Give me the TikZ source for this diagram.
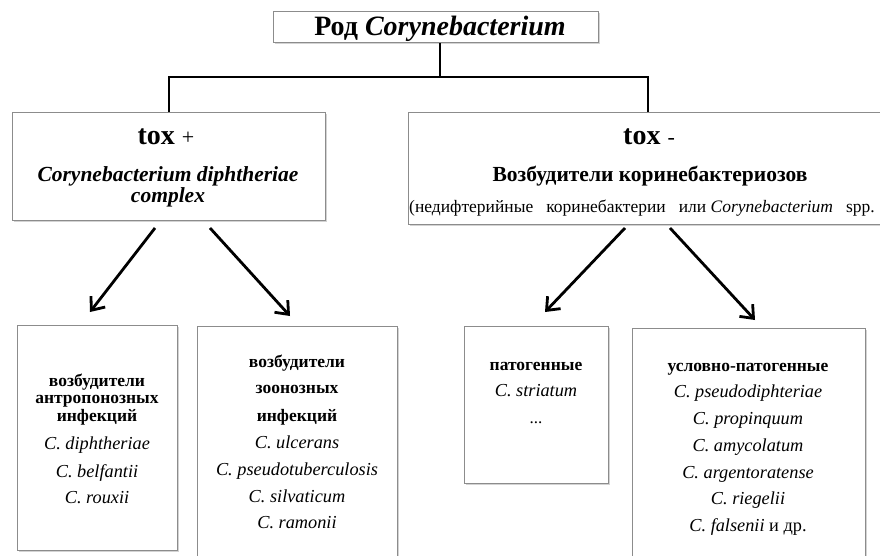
\documentclass[tikz,border=0pt]{standalone}
\usepackage{fontspec}
\setmainfont{Liberation Serif}
\usetikzlibrary{arrows.meta,shadows}
\begin{document}
\begin{tikzpicture}[x=1pt,y=-1pt,
  box/.style={draw=black!45,line width=1pt,fill=white,inner sep=0,
    drop shadow={opacity=0.35,shadow xshift=1.5pt,shadow yshift=-1.5pt}},
  lbl/.style={anchor=base,inner sep=0},
  hd/.style={lbl,font=\fontsize{17.5}{20}\selectfont\bfseries},
  sp/.style={lbl,font=\fontsize{18.3}{20}\selectfont\itshape},
  conn/.style={line width=2pt},
  arr/.style={line width=2.8pt,-{Straight Barb[length=11pt,width=18pt,line width=2.8pt]}}]
\useasboundingbox (0,0) rectangle (880,556);
% boxes
\node[box,minimum width=325,minimum height=31] (top) at (435.5,27.5) {};
\node[box,minimum width=313,minimum height=107] (tplus) at (168.5,166.5) {};
\node[box,minimum width=480,minimum height=111] (tminus) at (648,168.5) {};
\node[box,minimum width=160,minimum height=225] (b1) at (97,437.5) {};
\node[box,minimum width=200,minimum height=240] (b2) at (297,446) {};
\node[box,minimum width=144,minimum height=157] (b3) at (536,404.5) {};
\node[box,minimum width=233,minimum height=240] (b4) at (748.5,448) {};
% title
\node[lbl,font=\fontsize{28}{32}\selectfont\bfseries] (ttl) at (440,36) {Род \textit{Corynebacterium}};
% tox+
\node[lbl] (tp1) at (166,145) {\fontsize{28}{32}\selectfont\bfseries tox \fontsize{22}{26}\selectfont\mdseries +};
\node[lbl,font=\fontsize{21.5}{24}\selectfont\bfseries\itshape] (tp2) at (168,182) {Corynebacterium diphtheriae};
\node[lbl,font=\fontsize{21.5}{24}\selectfont\bfseries\itshape] (tp3) at (168,203) {complex};
% tox-
\node[lbl] (tm1) at (649,145) {\fontsize{28}{32}\selectfont\bfseries tox \fontsize{22}{26}\selectfont\mdseries -};
\node[lbl,font=\fontsize{21.5}{24}\selectfont\bfseries] (tm2) at (650,182) {Возбудители коринебактериозов};
\node[lbl,anchor=base west,font=\fontsize{17.5}{20}\selectfont] (tm3) at (409,212) {(недифтерийные\hspace{13pt}коринебактерии\hspace{13pt}или \textit{Corynebacterium}\hspace{13pt}spp.};
% box 1
\node[hd] (b1a) at (97,386) {возбудители};
\node[hd] (b1b) at (97,403) {антропонозных};
\node[hd] (b1c) at (97,421) {инфекций};
\node[sp] (b1d) at (97,449) {C. diphtheriae};
\node[sp] (b1e) at (97,477) {C. belfantii};
\node[sp] (b1f) at (97,503) {C. rouxii};
% box 2
\node[hd] (b2a) at (297,367) {возбудители};
\node[hd] (b2b) at (297,393) {зоонозных};
\node[hd] (b2c) at (297,421) {инфекций};
\node[sp] (b2d) at (297,448) {C. ulcerans};
\node[sp] (b2e) at (297,475) {C. pseudotuberculosis};
\node[sp] (b2f) at (297,502) {C. silvaticum};
\node[sp] (b2g) at (297,528) {C. ramonii};
% box 3
\node[hd] (b3a) at (536,370) {патогенные};
\node[sp] (b3b) at (536,396) {C. striatum};
\node[lbl,font=\fontsize{17}{20}\selectfont] (b3c) at (536,423) {...};
% box 4
\node[hd] (b4a) at (748,371) {условно-патогенные};
\node[sp] (b4b) at (748,397) {C. pseudodiphteriae};
\node[sp] (b4c) at (748,424) {C. propinquum};
\node[sp] (b4d) at (748,451) {C. amycolatum};
\node[sp] (b4e) at (748,478) {C. argentoratense};
\node[sp] (b4f) at (748,504) {C. riegelii};
\node[sp] (b4g) at (748,531) {\textit{C. falsenii} \upshape и др.};
% connectors
\coordinate (j) at (440,77);
\draw[conn] (top.south -| j) -- (j);
\draw[conn] (j) -| (tplus.north);
\draw[conn] (j) -| (tminus.north);
\coordinate (a1s) at (155,228); \coordinate (a1e) at (90,312);
\coordinate (a2s) at (210,228); \coordinate (a2e) at (290,316);
\coordinate (a3s) at (625,228); \coordinate (a3e) at (545,312);
\coordinate (a4s) at (670,228); \coordinate (a4e) at (755,320);
\draw[arr] (a1s) -- (a1e);
\draw[arr] (a2s) -- (a2e);
\draw[arr] (a3s) -- (a3e);
\draw[arr] (a4s) -- (a4e);
\end{tikzpicture}
\end{document}
